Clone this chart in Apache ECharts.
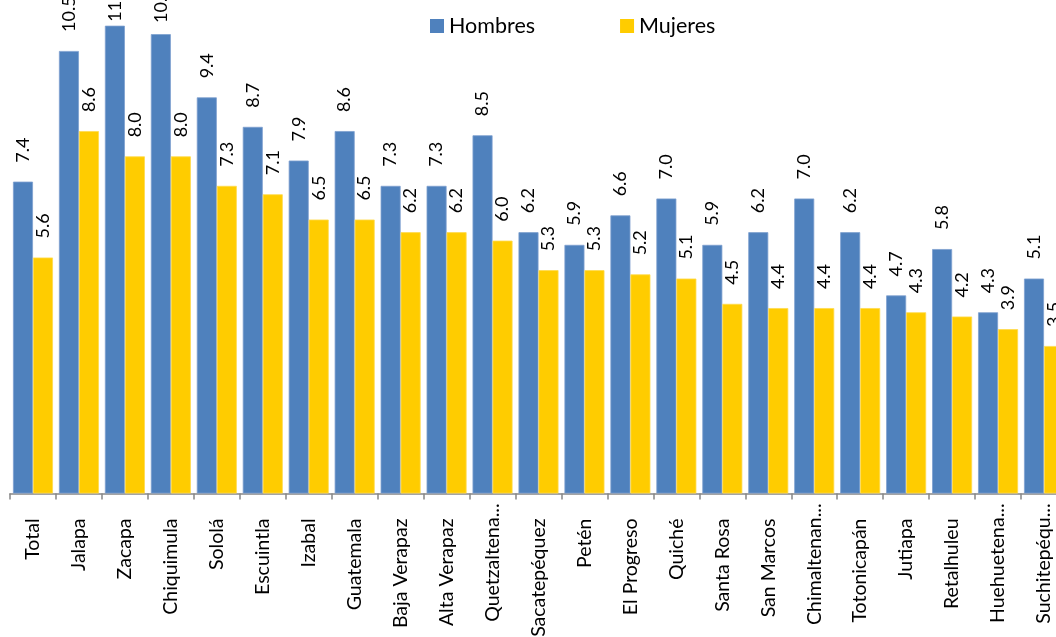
<!DOCTYPE html>
<html>
<head>
<meta charset="utf-8">
<script src="https://cdn.jsdelivr.net/npm/echarts@6/dist/echarts.min.js"></script>
<style>
  html, body { margin: 0; padding: 0; background: #fff; overflow: hidden; }
  #chart { width: 1056px; height: 637px; }
</style>
</head>
<body>
<div id="chart"></div>
<script>
// Departamentos (labels as shown on the axis)
const categories = [
  'Total', 'Jalapa', 'Zacapa', 'Chiquimula', 'Sololá', 'Escuintla', 'Izabal',
  'Guatemala', 'Baja Verapaz', 'Alta Verapaz', 'Quetzaltena...', 'Sacatepéquez',
  'Petén', 'El Progreso', 'Quiché', 'Santa Rosa', 'San Marcos', 'Chimaltenan...',
  'Totonicapán', 'Jutiapa', 'Retalhuleu', 'Huehuetena...', 'Suchitepéqu...'
];

const hombres = [7.4, 10.5, 11.1, 10.9, 9.4, 8.7, 7.9, 8.6, 7.3, 7.3, 8.5, 6.2,
                 5.9, 6.6, 7.0, 5.9, 6.2, 7.0, 6.2, 4.7, 5.8, 4.3, 5.1];
const mujeres = [5.6, 8.6, 8.0, 8.0, 7.3, 7.1, 6.5, 6.5, 6.2, 6.2, 6.0, 5.3,
                 5.3, 5.2, 5.1, 4.5, 4.4, 4.4, 4.4, 4.3, 4.2, 3.9, 3.5];

const FONT = 'Lato';
const LABEL_GAP = 17;     // normal gap between bar end and its value label
const LABEL_LIMIT = 25;   // value labels are pushed down so they never start above this line

function valueLabel() {
  return {
    show: true,
    position: 'top',
    rotate: 90,
    align: 'left',
    verticalAlign: 'middle',
    distance: LABEL_GAP,
    offset: [2, 0],
    color: '#000',
    fontFamily: FONT,
    fontSize: 18,
    formatter: p => p.value.toFixed(1)
  };
}

const chart = echarts.init(document.getElementById('chart'), null, { renderer: 'canvas' });
chart.setOption({
  animation: false,
  backgroundColor: '#ffffff',
  legend: {
    top: 10,
    left: 425,
    itemWidth: 14,
    itemHeight: 14,
    itemGap: 85,
    icon: 'rect',
    itemStyle: { borderWidth: 0 },
    textStyle: { fontFamily: FONT, fontSize: 21.5, color: '#000' },
    data: ['Hombres', 'Mujeres']
  },
  // the plot runs past the right edge of the canvas; keep the grid where it is
  grid: { left: 10, top: 0, width: 1057, height: 493.5, containLabel: false, outerBoundsMode: 'none' },
  xAxis: {
    type: 'category',
    data: categories,
    boundaryGap: true,
    axisLine: { lineStyle: { color: '#868686', width: 1.5 } },
    axisTick: { show: true, length: 6, lineStyle: { color: '#868686', width: 1.5 } },
    axisLabel: {
      interval: 0,
      rotate: 90,
      margin: 10,
      color: '#000',
      fontFamily: FONT,
      fontSize: 19.5,
      formatter: v => v.endsWith('...') ? '{t|' + v + '}' : '{n|' + v + '}',
      rich: {
        n: { fontFamily: FONT, fontSize: 19.5, color: '#000', padding: [0, 15, 0, 0] },
        t: { fontFamily: FONT, fontSize: 19.5, color: '#000' }
      }
    }
  },
  yAxis: {
    type: 'value',
    min: 0,
    max: 11.71,
    show: false,
    splitLine: { show: false }
  },
  series: [
    {
      name: 'Hombres',
      type: 'bar',
      data: hombres,
      barWidth: 20,
      barGap: '0%',
      itemStyle: { color: '#4F81BD', borderColor: '#7E9FCF', borderWidth: 0.8 },
      label: valueLabel()
    },
    {
      name: 'Mujeres',
      type: 'bar',
      data: mujeres,
      barWidth: 20,
      barGap: '0%',
      itemStyle: { color: '#FFCC00', borderColor: '#FFDB4D', borderWidth: 0.8 },
      label: valueLabel()
    }
  ]
});

// Tall bars: shrink the label gap so the label stays below LABEL_LIMIT
function withLabelGaps(values) {
  return values.map(v => {
    const top = chart.convertToPixel({ yAxisIndex: 0 }, v);
    const gap = Math.max(2, Math.min(LABEL_GAP, top - LABEL_LIMIT));
    return gap < LABEL_GAP ? { value: v, label: { distance: gap } } : v;
  });
}

chart.setOption({
  series: [
    { name: 'Hombres', data: withLabelGaps(hombres) },
    { name: 'Mujeres', data: withLabelGaps(mujeres) }
  ]
});
</script>
</body>
</html>
